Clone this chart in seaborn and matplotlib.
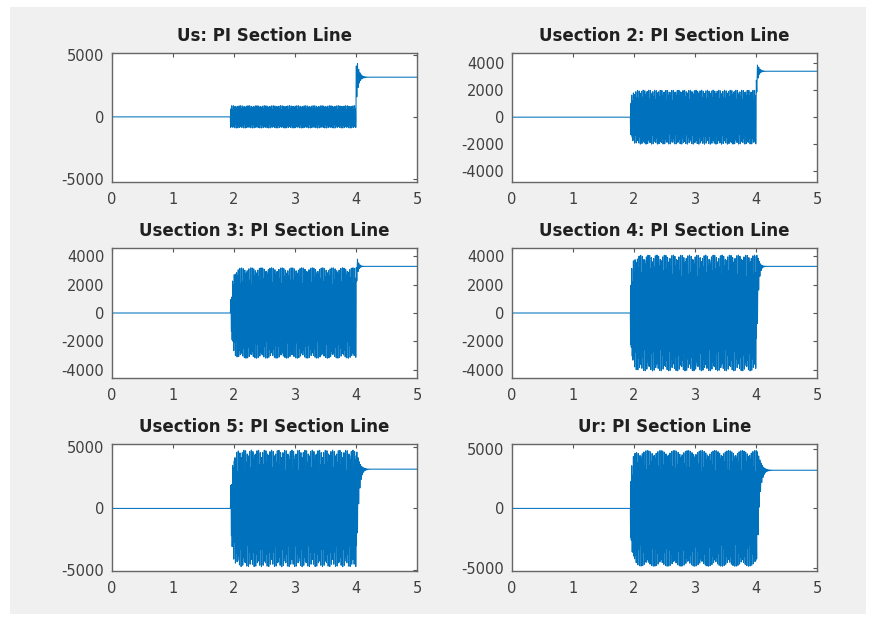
import numpy as np
import pandas as pd
import seaborn as sns
import matplotlib.pyplot as plt
from matplotlib.patches import Rectangle

# -- values, one entry per panel (row by row) -- #
titles = ['Us: PI Section Line', 'Usection 2: PI Section Line',
          'Usection 3: PI Section Line', 'Usection 4: PI Section Line',
          'Usection 5: PI Section Line', 'Ur: PI Section Line']
t_on = [1.94, 1.94, 1.95, 1.94, 1.95, 1.94]        # start of oscillation (s)
t_off = [4.0, 4.0, 4.0, 4.01, 4.01, 4.02]          # end of oscillation (s)
band_amp = [900, 2000, 3200, 4100, 4750, 4850]     # oscillation amplitude
onset_ratio = [1.0, 0.6, 0.3, 0.5, 0.4, 0.45]      # amplitude at start / full
settle = [3200, 3400, 3300, 3300, 3200, 3200]      # final dc value
trans_amp = [2200, 1400, 1400, 4100, 4700, 4800]   # transient amplitude after t_off
rise_tau = [0.004, 0.008, 0.005, 0.02, 0.03, 0.03]
decay_tau = [0.035, 0.03, 0.025, 0.025, 0.035, 0.04]
ylims = [(-5250, 5150), (-4800, 4750), (-4600, 4600),
         (-4600, 4600), (-5100, 5250), (-5250, 5400)]
yticks = [[-5000, 0, 5000], [-4000, -2000, 0, 2000, 4000],
          [-4000, -2000, 0, 2000, 4000], [-4000, -2000, 0, 2000, 4000],
          [-5000, 0, 5000], [-5000, 0, 5000]]
xticks = [0, 1, 2, 3, 4, 5]
trans_freq = 50.0
band_freq = 75.0
samples_per_cycle = [3.45, 3.43, 3.46, 3.45, 3.44, 3.47]

sns.set_style('white')
plt.rcParams['font.family'] = ['DejaVu Sans']
plt.rcParams['axes.unicode_minus'] = False

fig = plt.figure(figsize=(8.74, 6.21), dpi=100)
fig.patch.set_facecolor('white')
fig.patches.append(Rectangle((10/874, 1-614/621), 856/874, 607/621,
                             transform=fig.transFigure, facecolor='#f0f0f0',
                             edgecolor='none', zorder=-10))

lefts = [112/874, 512/874]
bottoms = [1-182/621, 1-378/621, 1-571/621]
heights = [129/621, 130/621, 127/621]
width = 305/874

for i in range(6):
    row, col = divmod(i, 2)
    ax = fig.add_axes([lefts[col], bottoms[row], width, heights[row]])

    # sampled waveform: flat, oscillating band, then settling transient
    dt_band = 1/(band_freq*samples_per_cycle[i])
    t_pre = np.arange(0, t_on[i], 0.01)
    t_band = np.arange(t_on[i], t_off[i], dt_band)
    t_post = np.arange(t_off[i], 5.0001, 1e-4)
    amp = band_amp[i]*(1 - (1-onset_ratio[i])*np.exp(-(t_band-t_on[i])/0.03))
    y_band = amp*np.sin(2*np.pi*band_freq*t_band)
    dx = t_post - t_off[i]
    y_post = settle[i]*(1-np.exp(-dx/rise_tau[i])) + \
        trans_amp[i]*np.exp(-dx/decay_tau[i])*np.sin(2*np.pi*trans_freq*dx + 0.3)

    df = pd.DataFrame({'t': np.concatenate([t_pre, t_band, t_post]),
                       'u': np.concatenate([np.zeros_like(t_pre), y_band, y_post])})
    sns.lineplot(data=df, x='t', y='u', ax=ax, color='#0072BD',
                 linewidth=0.75, estimator=None, sort=False)

    ax.set_xlim(0, 5)
    ax.set_ylim(*ylims[i])
    ax.set_xticks(xticks)
    ax.set_yticks(yticks[i])
    ax.set_xlabel('')
    ax.set_ylabel('')
    ax.set_facecolor('white')
    ax.set_title(titles[i], fontsize=12, fontweight='bold', color='#202020', pad=8.5)
    ax.tick_params(direction='in', length=3, width=0.8, color='#555555',
                   labelcolor='#404040', labelsize=10.5, top=True, right=True)
    ax.tick_params(axis='x', pad=7)
    ax.tick_params(axis='y', pad=5.5)
    for s in ax.spines.values():
        s.set_color('#666666')
        s.set_linewidth(1.0)

fig.savefig('out.png', dpi=100, facecolor=fig.get_facecolor())
